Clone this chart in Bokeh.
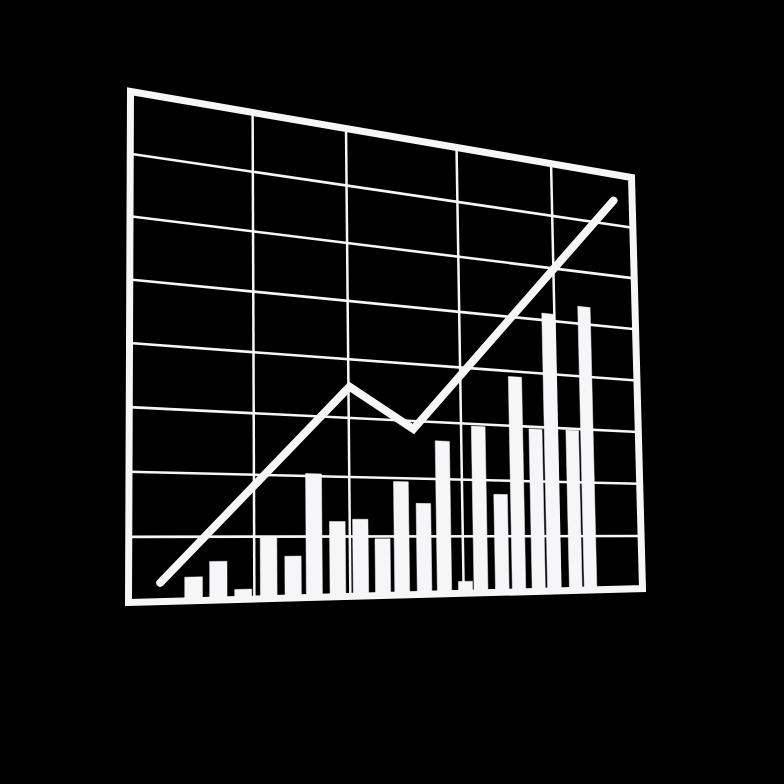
import numpy as np
from bokeh.plotting import figure
from bokeh.models import Range1d
from bokeh.embed import file_html
from bokeh.resources import INLINE

# ---------------- data (chart units: x 0..100, y 0..8) ----------------
bar_x = [10.4, 14.5, 18.7, 23.1, 27.4, 31.2, 35.5, 39.8, 44.0, 47.7,
         52.1, 56.1, 60.4, 63.6, 68.1, 71.7, 76.0, 79.4, 84.3, 87.7]
bar_h = [0.37, 0.61, 0.16, 1.00, 0.68, 2.04, 1.25, 1.29, 0.96, 1.94,
         1.57, 2.67, 0.21, 2.96, 1.75, 3.90, 2.96, 5.13, 2.97, 5.33]
line_x = [5.0, 38.0, 50.3, 95.4]
line_y = [0.29, 3.53, 2.86, 7.48]
x_grid = [20.6, 37.8, 60.0, 80.8]
y_grid = [1, 2, 3, 4, 5, 6, 7]
X_MAX = 100.0
Y_MAX = 8.0

# ---------------- perspective (layout) ----------------
W = H = 768
OFF = 0
corners_src = [(0, 0), (1, 0), (1, 1), (0, 1)]
corners_dst = [(128, 602), (642, 588), (631, 177), (130, 91)]
A, b = [], []
for (x, y), (X, Y) in zip(corners_src, corners_dst):
    A.append([x, y, 1, 0, 0, 0, -X * x, -X * y]); b.append(X)
    A.append([0, 0, 0, x, y, 1, -Y * x, -Y * y]); b.append(Y)
hv = np.linalg.solve(np.array(A, float), np.array(b, float))
Hm = np.append(hv, 1.0).reshape(3, 3)


def proj(xs, ys):
    u = np.asarray(xs, float) / X_MAX
    v = np.asarray(ys, float) / Y_MAX
    d = Hm[2, 0] * u + Hm[2, 1] * v + Hm[2, 2]
    X = (Hm[0, 0] * u + Hm[0, 1] * v + Hm[0, 2]) / d
    Y = (Hm[1, 0] * u + Hm[1, 1] * v + Hm[1, 2]) / d
    return list(X - OFF), list(Y - OFF)


WHITE = "#f6f6f8"

p = figure(width=W, height=H, output_backend="svg", toolbar_location=None,
           x_range=Range1d(0, W), y_range=Range1d(H, 0),
           min_border=0, background_fill_color="black",
           border_fill_color="black", outline_line_color=None)
p.axis.visible = False
p.grid.visible = False

try:
    from bokeh.models import GlobalInlineStyleSheet
    p.stylesheets = [GlobalInlineStyleSheet(css="html,body{background:#000 !important;}")]
except Exception:
    pass

# grid lines
gx, gy = [], []
for gxv in x_grid:
    a, c = proj([gxv, gxv], [0, Y_MAX])
    gx.append(a); gy.append(c)
p.multi_line(gx, gy, line_color=WHITE, line_width=2.5)
hx, hy = [], []
for gyv in y_grid:
    a, c = proj([0, X_MAX], [gyv, gyv])
    hx.append(a); hy.append(c)
p.multi_line(hx, hy, line_color=WHITE, line_width=2.6)

# bars
bw = 2.9
bxs, bys = [], []
for cx, h in zip(bar_x, bar_h):
    a, c = proj([cx - bw / 2, cx + bw / 2, cx + bw / 2, cx - bw / 2], [0, 0, h, h])
    bxs.append(a); bys.append(c)
p.patches(bxs, bys, fill_color=WHITE, line_color=WHITE, line_width=0.5)

# line series
lx, ly = proj(line_x, line_y)
p.line(lx, ly, line_color=WHITE, line_width=8, line_join="miter", line_cap="round")

# frame
fx, fy = proj([0, X_MAX, X_MAX, 0], [0, 0, Y_MAX, Y_MAX])
p.patch(fx, fy, fill_color=None, line_color=WHITE, line_width=7, line_join="miter")

open("out.html", "w").write(file_html(p, INLINE))
